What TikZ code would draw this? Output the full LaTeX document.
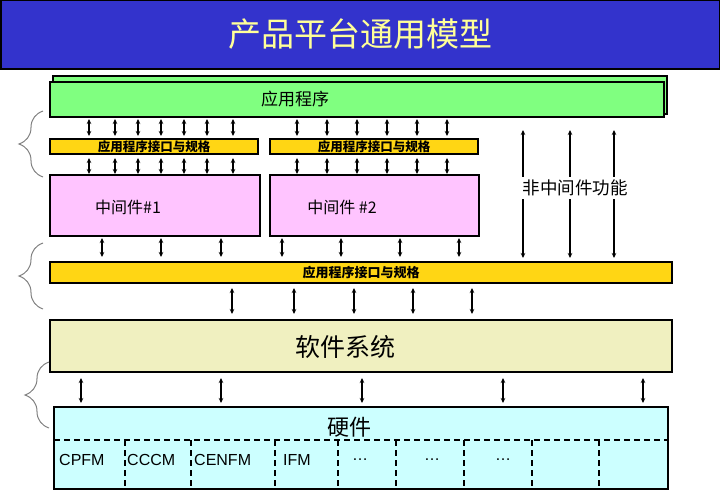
\documentclass[tikz,border=0pt]{standalone}
\usepackage{fontspec}
\setmainfont{Liberation Sans}
\newfontfamily\cjk{Noto Sans CJK SC}
\usepackage{tikz}
\usetikzlibrary{arrows.meta,positioning,decorations.pathreplacing}
\usepackage{xcolor}
\definecolor{titleblue}{RGB}{51,51,204}
\definecolor{titletext}{RGB}{255,255,153}
\definecolor{appgreen}{RGB}{128,255,128}
\definecolor{apiyellow}{RGB}{255,214,20}
\definecolor{mwpink}{RGB}{255,196,255}
\definecolor{swcream}{RGB}{240,240,192}
\definecolor{hwcyan}{RGB}{204,255,255}

\begin{document}
\begin{tikzpicture}[x=1pt, y=-1pt,
    blk/.style={rectangle, draw, line width=1.4pt, inner sep=0pt, outer sep=0pt},
    txt/.style={inner sep=0pt},
    arrow/.style={{Stealth[length=5pt,width=4.5pt]}-{Stealth[length=5pt,width=4.5pt]}, line width=1.2pt},
    onearrow/.style={-{Stealth[length=5pt,width=4.5pt]}, line width=1.2pt},
    curly/.style={decorate, decoration={brace, amplitude=24pt}, draw=gray, line width=1pt},
    dashline/.style={dash pattern=on 6pt off 4pt, line width=1.4pt}
]
    \useasboundingbox (0,0) rectangle (720,492);

    % 标题
    \node[blk, fill=titleblue, text=titletext, font=\cjk\fontsize{33}{36}\selectfont,
          minimum width=719, minimum height=69] (title) at (360.5,34.5) {产品平台通用模型};

    % 应用程序层
    \node[blk, fill=appgreen, minimum width=614, minimum height=38] (appback) at (360,95) {};
    \node[blk, fill=appgreen, minimum width=614, minimum height=35] (app) at (357,99.5) {};
    \node[txt, font=\cjk\fontsize{17}{20}\selectfont] (apptxt) at (295,99) {应用程序};

    % 接口与中间件
    \node[blk, fill=apiyellow, font=\cjk\bfseries\fontsize{12.5}{14}\selectfont,
          minimum width=208, minimum height=15] (api1) at (154,146.5) {应用程序接口与规格};
    \node[blk, fill=apiyellow, font=\cjk\bfseries\fontsize{12.5}{14}\selectfont,
          minimum width=208, minimum height=15] (api2) at (374,146.5) {应用程序接口与规格};
    \node[blk, fill=mwpink, minimum width=210, minimum height=61] (mw1) at (155,205.5) {};
    \node[blk, fill=mwpink, minimum width=209, minimum height=61] (mw2) at (374.5,205.5) {};
    \node[txt, font=\cjk\fontsize{16}{18}\selectfont] (mwtxt1) at (128,207) {中间件\#1};
    \node[txt, font=\cjk\fontsize{16}{18}\selectfont] (mwtxt2) at (342,207) {中间件 \#2};
    \node[txt, inner ysep=3pt, font=\cjk\fontsize{17.5}{20}\selectfont] (nmw) at (575,188) {非中间件功能};

    % 公共接口、软件系统、硬件
    \node[blk, fill=apiyellow, font=\cjk\bfseries\fontsize{13}{15}\selectfont,
          minimum width=622, minimum height=21] (apibig) at (361,272.5) {应用程序接口与规格};
    \node[blk, fill=swcream, minimum width=622, minimum height=52] (sw) at (361,346) {};
    \node[txt, font=\cjk\fontsize{25}{28}\selectfont] (swtxt) at (345,347) {软件系统};
    \node[blk, fill=hwcyan, minimum width=614, minimum height=82] (hw) at (361,448) {};
    \node[txt, font=\cjk\fontsize{22}{25}\selectfont] (hwtxt) at (349,427) {硬件};

    % 硬件模块
    \draw[dashline] (hw.west |- 0,440) -- (hw.east |- 0,440);
    \foreach \x in {125,191,275,338,396,464,532,599}
        \draw[dashline] (\x,440) -- (hw.south -| \x,0);
    \foreach \x/\cell [count=\i] in {59/CPFM,127/CCCM,194/CENFM,283/IFM,352/\ldots,424/\ldots,495/\ldots}
        \node[txt, anchor=west, font=\fontsize{16}{18}\selectfont] (cell\i) at (\x,460) {\cell};

    % 双向箭头
    \foreach \x in {89,115,138,161,184,207,233} {
        \draw[arrow, shorten <=2pt, shorten >=3pt] (app.south -| \x,0) -- (api1.north -| \x,0);
        \draw[arrow, shorten <=4pt, shorten >=1pt] (api1.south -| \x,0) -- (mw1.north -| \x,0);
    }
    \foreach \x in {297,327,357,387,417,447} {
        \draw[arrow, shorten <=2pt, shorten >=3pt] (app.south -| \x,0) -- (api2.north -| \x,0);
        \draw[arrow, shorten <=4pt, shorten >=1pt] (api2.south -| \x,0) -- (mw2.north -| \x,0);
    }
    \foreach \x in {102,161,221}
        \draw[arrow, shorten <=2pt, shorten >=5pt] (mw1.south -| \x,0) -- (apibig.north -| \x,0);
    \foreach \x in {282,341,400,459}
        \draw[arrow, shorten <=2pt, shorten >=5pt] (mw2.south -| \x,0) -- (apibig.north -| \x,0);
    \foreach \x in {232,294,354,413,472}
        \draw[arrow, shorten <=5pt, shorten >=6pt] (apibig.south -| \x,0) -- (sw.north -| \x,0);
    \foreach \x in {81,221,362,503,643}
        \draw[arrow, shorten <=6pt, shorten >=4pt] (sw.south -| \x,0) -- (hw.north -| \x,0);

    % 非中间件功能
    \foreach \x in {523,570,614} {
        \draw[onearrow, shorten >=13pt] (nmw.north -| \x,0) -- (app.south -| \x,0);
        \draw[onearrow, shorten >=4pt] (nmw.south -| \x,0) -- (apibig.north -| \x,0);
    }

    % 左侧括号
    \draw[curly] (43,177) -- (43,111);
    \draw[curly] (43,309) -- (43,243);
    \draw[curly] (49,428) -- (49,362);
\end{tikzpicture}
\end{document}
